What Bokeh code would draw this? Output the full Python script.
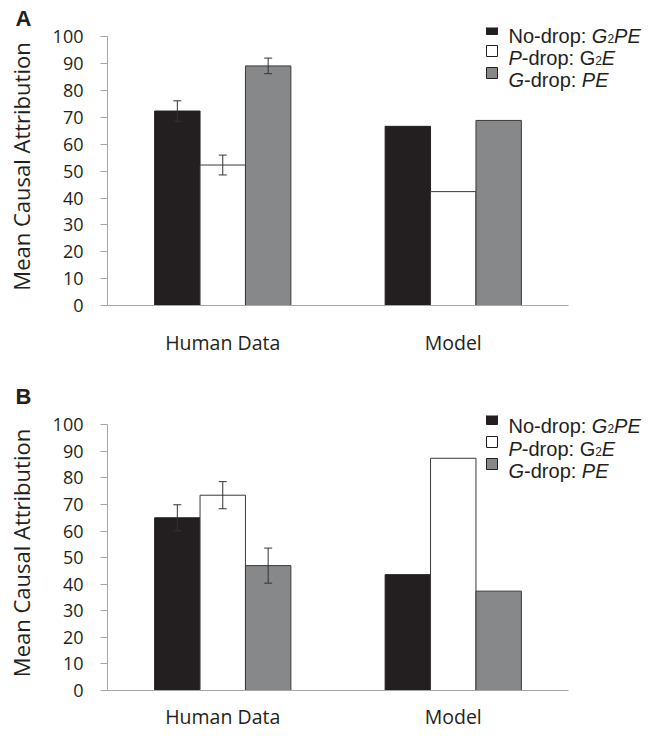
from bokeh.plotting import figure
from bokeh.models import ColumnDataSource, Whisker, Label, BoxAnnotation, Range1d, TeeHead, FixedTicker
from bokeh.transform import dodge
from bokeh.layouts import column
from bokeh.embed import file_html
from bokeh.resources import INLINE

# ---------------- data ----------------
groups = ["Human Data", "Model"]
conditions = ["No-drop", "P-drop", "G-drop"]

a_human = [72.4, 52.3, 89.2]
a_human_err = [3.8, 3.7, 2.9]
a_model = [66.7, 42.4, 68.9]

b_human = [65.0, 73.5, 47.0]
b_human_err = [4.9, 5.1, 6.6]
b_model = [43.6, 87.4, 37.4]

y_ticks = [0, 10, 20, 30, 40, 50, 60, 70, 80, 90, 100]
y_label = "Mean Causal Attribution"

# legend entries: (text piece, italic?, subscript?)
legend_rows = [
    [("No-drop: ", False, False), ("G", True, False), ("2", False, True), ("PE", True, False)],
    [("P", True, False), ("-drop: ", False, False), ("G", False, False), ("2", False, True), ("E", True, False)],
    [("G", True, False), ("-drop: ", False, False), ("PE", True, False)],
]

# ---------------- style ----------------
fills = ["#231f20", "#ffffff", "#87888a"]
outlines = ["#231f20", "#3a3a3a", "#3a3a3a"]
TXT = "#231f20"
AX = "#a6a6a6"
BAR_W = 0.197
offsets = [-BAR_W, 0.0, BAR_W]
group_pos = [i + 0.5 for i in range(len(groups))]   # centre of each category slot
X_END = 2 * (642 - 107) / (568 - 107)               # extra room on the right for the legend
Y_END = 103.5                                       # room above 100 for the legend

# Arial-like advance widths (per 1000 em) for placing legend text pieces
AW = {'N': 722, 'o': 556, '-': 333, 'd': 556, 'r': 333, 'p': 556, ':': 278, ' ': 278,
      'G': 778, 'P': 667, 'E': 667, '2': 556}
LEG_FS = 20
SUB_FS = 12


def text_w(s, fs):
    return sum(AW.get(c, 556) for c in s) * fs / 1000.0


def make_panel(letter, human, err, model, height, top, bottom, cat_standoff,
               title_standoff, leg_baselines):
    p = figure(x_range=Range1d(0, X_END), y_range=Range1d(0, Y_END),
               width=650, height=height, output_backend="svg", toolbar_location=None,
               min_border_left=107, min_border_right=8, min_border_top=top,
               min_border_bottom=bottom)
    p.outline_line_color = None
    p.xgrid.visible = False
    p.ygrid.visible = False
    p.background_fill_color = "white"
    p.border_fill_color = "white"

    # panel letter as title
    p.title.text = letter
    p.title.align = "left"
    p.title.offset = -92
    p.title.standoff = title_standoff
    p.title.text_font = "Liberation Sans"
    p.title.text_font_size = "22px"
    p.title.text_font_style = "bold"
    p.title.text_color = TXT

    for i in range(3):
        src = ColumnDataSource(dict(x=group_pos, val=[human[i], model[i]]))
        p.vbar(x=dodge("x", offsets[i]), top="val", width=BAR_W,
               source=src, fill_color=fills[i], line_color=outlines[i], line_width=1)

    for i in range(3):
        esrc = ColumnDataSource(dict(x=[group_pos[0]],
                                     upper=[human[i] + err[i]],
                                     lower=[human[i] - err[i]]))
        w = Whisker(source=esrc, base=dodge("x", offsets[i]),
                    upper="upper", lower="lower", dimension="height",
                    line_color="#333333", line_width=1, level="overlay",
                    upper_head=TeeHead(size=8, line_color="#333333", line_width=1),
                    lower_head=TeeHead(size=8, line_color="#333333", line_width=1))
        p.add_layout(w)

    # y axis
    ya = p.yaxis[0]
    ya.ticker = y_ticks
    ya.bounds = (0, 100)
    ya.minor_tick_line_color = None
    ya.major_tick_in = 0
    ya.major_tick_out = 7
    ya.major_tick_line_color = AX
    ya.axis_line_color = AX
    ya.major_label_text_font = "Open Sans"
    ya.major_label_text_font_size = "18px"
    ya.major_label_text_color = TXT
    ya.major_label_standoff = 17
    ya.axis_label = y_label
    ya.axis_label_text_font = "Open Sans"
    ya.axis_label_text_font_size = "22px"
    ya.axis_label_text_font_style = "normal"
    ya.axis_label_text_color = TXT
    ya.axis_label_standoff = 14

    # x axis
    xa = p.xaxis[0]
    xa.ticker = FixedTicker(ticks=group_pos)
    xa.major_label_overrides = {gp: g for gp, g in zip(group_pos, groups)}
    xa.bounds = (0, len(groups))
    xa.major_tick_in = 0
    xa.major_tick_out = 0
    xa.minor_tick_line_color = None
    xa.axis_line_color = AX
    xa.major_label_text_font = "Open Sans"
    xa.major_label_text_font_size = "19.5px"
    xa.major_label_text_color = TXT
    xa.major_label_standoff = cat_standoff

    # legend (manual, to allow italic pieces and subscripts)
    for i, row in enumerate(legend_rows):
        base = leg_baselines[i]
        p.add_layout(BoxAnnotation(left=379, right=390, bottom=base + 1, top=base + 12,
                                   left_units="screen", right_units="screen",
                                   bottom_units="screen", top_units="screen",
                                   fill_color=fills[i], fill_alpha=1.0,
                                   line_color="#231f20", line_width=1, line_alpha=1.0))
        x = 401.0
        for txt, ital, sub in row:
            fs = SUB_FS if sub else LEG_FS
            p.add_layout(Label(x=x, y=base - (3 if sub else 0), x_units="screen",
                               y_units="screen", text=txt,
                               text_font="Liberation Sans", text_font_size=f"{fs}px",
                               text_font_style="italic" if ital else "normal",
                               text_color=TXT, text_baseline="alphabetic",
                               text_align="left"))
            x += text_w(txt, fs)
    return p


pA = make_panel("A", a_human, a_human_err, a_model, height=362, top=27, bottom=57,
                cat_standoff=23, title_standoff=-7, leg_baselines=[270, 248, 226])
pB = make_panel("B", b_human, b_human_err, b_model, height=370, top=53, bottom=39,
                cat_standoff=12, title_standoff=14, leg_baselines=[265, 242, 220])

layout = column(pA, pB)
open("out.html", "w").write(file_html(layout, INLINE))
